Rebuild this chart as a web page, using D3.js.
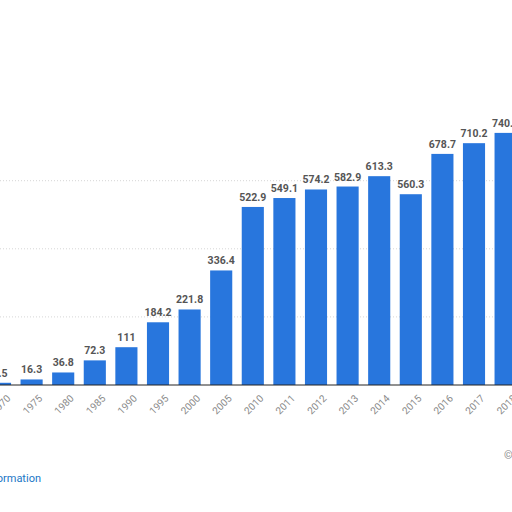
<!DOCTYPE html>
<html><head><meta charset="utf-8">
<script src="https://cdn.jsdelivr.net/npm/d3@7"></script>
<style>body{margin:0;background:#fff;overflow:hidden}</style>
</head><body><div class="plot"></div>
<script>
const years = ["1970","1975","1980","1985","1990","1995","2000","2005","2010","2011","2012","2013","2014","2015","2016","2017","2018"];
const values = [6.5,16.3,36.8,72.3,111,184.2,221.8,336.4,522.9,549.1,574.2,582.9,613.3,560.3,678.7,710.2,740.4];
const gridTicks = [200,400,600];

const width = 512, height = 512;
const baseY = 385;

const svg = d3.select('.plot').append('svg')
  .attr('width', width).attr('height', height)
  .style('font-family', 'Roboto, sans-serif');

// 1970 centred on the left edge, as in the cropped reference
const step = 31.6;
const xScale = d3.scaleBand().domain(years)
  .range([-step/2, -step/2 + step*years.length])
  .paddingInner(0.3).paddingOuter(0.15);

const yScale = d3.scaleLinear().domain([0, 800]).range([baseY, baseY - 800*0.3405]);

//Grid
svg.selectAll('.grid').data(gridTicks).enter().append('line')
  .attr('x1', 0).attr('x2', width)
  .attr('y1', d => yScale(d)).attr('y2', d => yScale(d))
  .attr('stroke', '#d6d6d6').attr('stroke-dasharray', '1,2');

//Bars
svg.selectAll('.bar').data(years).enter().append('rect')
  .attr('x', d => xScale(d))
  .attr('width', xScale.bandwidth())
  .attr('y', (d,i) => yScale(values[i]))
  .attr('height', (d,i) => baseY - yScale(values[i]))
  .attr('fill', '#2876dd');

//Value labels
svg.selectAll('.val').data(years).enter().append('text')
  .attr('x', d => xScale(d) + xScale.bandwidth()/2)
  .attr('y', (d,i) => yScale(values[i]) - 6)
  .attr('text-anchor', 'middle')
  .attr('font-size', 10.5).attr('font-weight', 'bold').attr('fill', '#555')
  .text((d,i) => values[i]);

//Axis
const xAxis = svg.append('g').attr('transform', `translate(0,${baseY})`)
  .call(d3.axisBottom(xScale).tickSize(0).tickPadding(8));
xAxis.select('.domain').attr('stroke', '#222').attr('d', `M0,0H${width}`);
xAxis.selectAll('text')
  .attr('font-size', 10).attr('fill', '#888').attr('font-family', 'Roboto, sans-serif')
  .attr('text-anchor', 'end')
  .attr('transform', 'rotate(-45)').attr('dx', '-2').attr('dy', '10');

svg.append('text').attr('x', 41).attr('y', 482).attr('text-anchor', 'end')
  .attr('font-size', 11).attr('fill', '#1a76c6').text('Additional Information');
svg.append('text').attr('x', 504).attr('y', 459)
  .attr('font-size', 11).attr('fill', '#888').text('© Statista');
</script></body></html>
